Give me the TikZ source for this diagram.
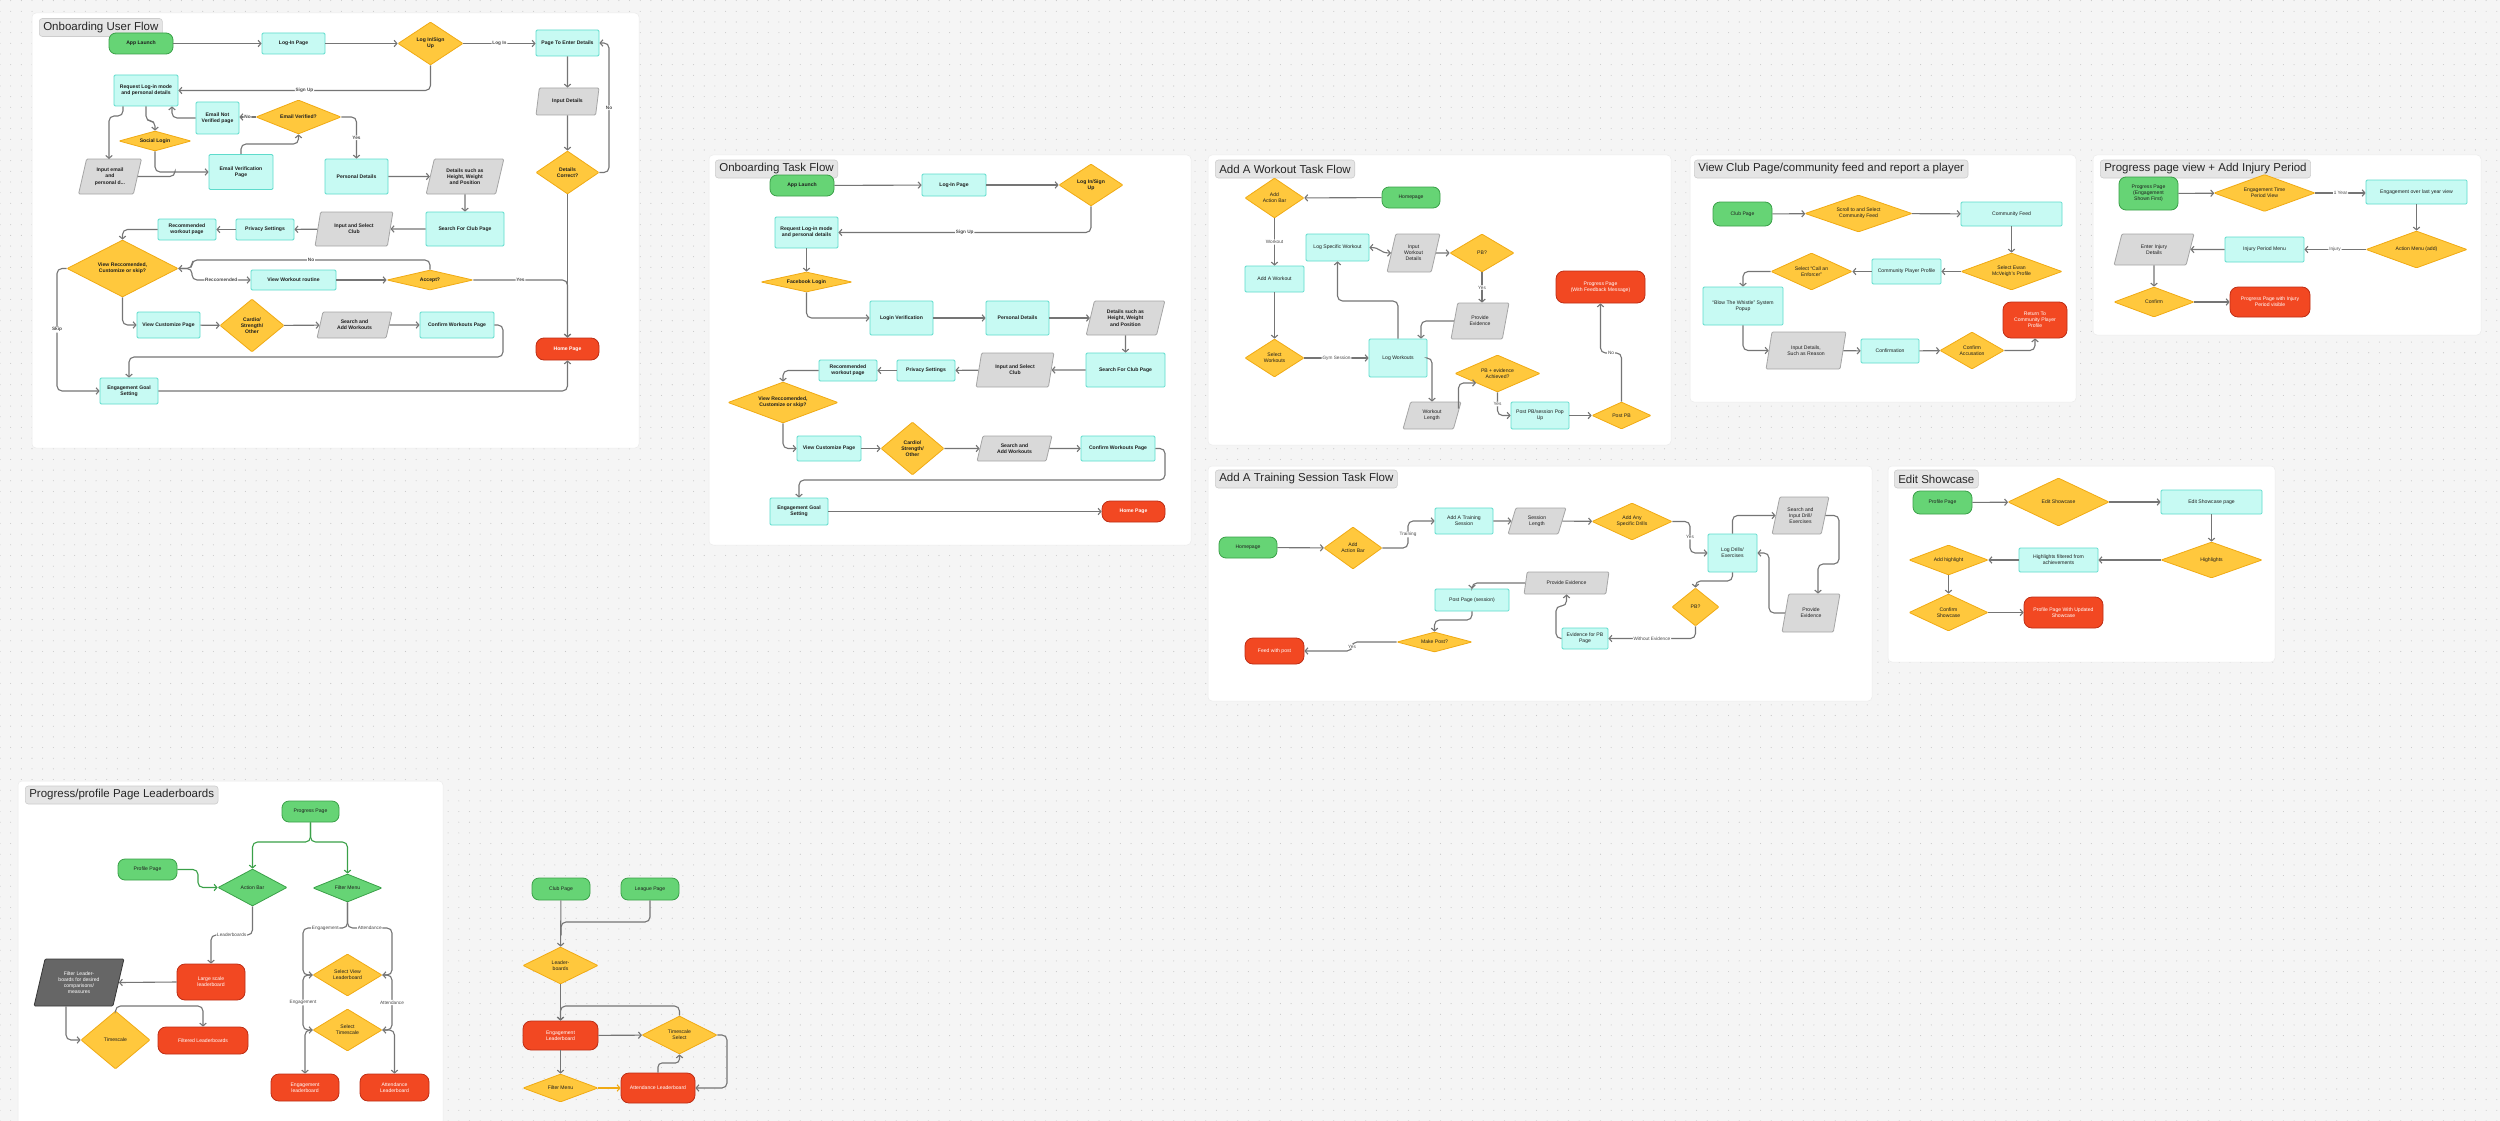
\documentclass[tikz,border=0pt]{standalone}
\usepackage{fontspec}
\setmainfont{Liberation Sans}
\usetikzlibrary{shapes.geometric,arrows.meta,patterns.meta}
\definecolor{bgc}{RGB}{245,245,245}
\definecolor{dotc}{RGB}{200,200,200}
\definecolor{gfill}{RGB}{102,212,117}
\definecolor{gline}{RGB}{58,160,72}
\definecolor{cfill}{RGB}{199,250,243}
\definecolor{cline}{RGB}{94,219,204}
\definecolor{yfill}{RGB}{255,200,61}
\definecolor{yline}{RGB}{240,170,20}
\definecolor{pfill}{RGB}{217,217,217}
\definecolor{pline}{RGB}{165,165,165}
\definecolor{rfill}{RGB}{242,72,34}
\definecolor{rline}{RGB}{190,45,20}
\definecolor{dfill}{RGB}{102,102,102}
\definecolor{dline}{RGB}{55,55,55}
\definecolor{arrc}{RGB}{117,117,117}
\definecolor{txt}{RGB}{30,30,30}
\definecolor{tfill}{RGB}{229,229,229}
\definecolor{tline}{RGB}{205,205,205}
\tikzdeclarepattern{
  name=bgdots,
  type=uncolored,
  bounding box={(-5.335pt,-5.335pt) and (5.335pt,5.335pt)},
  tile size={(10.67pt,10.67pt)},
  code={\fill (0pt,0pt) circle (0.55pt);}
}
\newcommand\nf{\fontsize{5.1}{6.2}\selectfont}
\newcommand\lf{\fontsize{4.7}{5.6}\selectfont}
\newcommand\nfw{\mdseries}
\newcommand\Dnode[6][dia]{\node[#1={#2}{#3},label={[dt]center:{#6}}] (#4) at (#5) {};}
\tikzset{
  base/.style={inner sep=1pt, align=center, font=\nf\nfw, text=txt, line width=0.8pt},
  term/.style 2 args={base, rectangle, rounded corners=7pt, fill=gfill, draw=gline, minimum width=#1, minimum height=#2},
  proc/.style 2 args={base, rectangle, rounded corners=1.2pt, fill=cfill, draw=cline, minimum width=#1, minimum height=#2},
  endn/.style 2 args={base, rectangle, rounded corners=8pt, fill=rfill, draw=rline, text=white, minimum width=#1, minimum height=#2},
  para/.style 2 args={base, trapezium, trapezium left angle=74, trapezium right angle=106, trapezium stretches=true, rounded corners=1.2pt, fill=pfill, draw=pline, minimum width=#1, minimum height=#2},
  dpara/.style 2 args={para={#1}{#2}, fill=dfill, draw=dline, text=white},
  dia/.style 2 args={base, diamond, inner sep=0pt, rounded corners=0.8pt, fill=yfill, draw=yline, minimum width=#1, minimum height=#2},
  gdia/.style 2 args={dia={#1}{#2}, fill=gfill, draw=gline},
  dt/.style={font=\nf\nfw, text=txt, align=center, inner sep=0pt},
  con/.style={draw=arrc, line width=1.1pt, rounded corners=5pt},
  arr/.style={con, -{Straight Barb[length=2.8pt,width=6.5pt]}},
  arr2/.style={con, {Straight Barb[length=2.8pt,width=6.5pt]}-{Straight Barb[length=2.8pt,width=6.5pt]}},
  garr/.style={arr, draw=gline},
  oarr/.style={arr, draw=yline},
  lab/.style={fill=white, inner sep=0.8pt, font=\lf\nfw, text=txt!80},
  panel/.style={fill=white, draw=black!8, line width=0.5pt, rounded corners=4pt},
  title/.style={anchor=west, fill=tfill, draw=tline, line width=0.6pt, rounded corners=3pt, inner xsep=4pt, inner ysep=0pt, minimum height=18, font=\fontsize{11.5}{13}\selectfont, text=black!85},
}
\begin{document}
\begin{tikzpicture}[x=1pt,y=-1pt]
\useasboundingbox (0,0) rectangle (2500,1121);
\fill[bgc] (0,0) rectangle (2500,1121);
\fill[pattern=bgdots, pattern color=dotc] (0,0) rectangle (2500,1121);
% panels
\draw[panel] (32,13) rectangle (639,448);
\draw[panel] (709,155) rectangle (1191,545);
\draw[panel] (1208,155) rectangle (1671,445);
\draw[panel] (1690,155) rectangle (2076,402);
\draw[panel] (2093,155) rectangle (2481,335);
\draw[panel] (1208,466) rectangle (1872,701);
\draw[panel] (1888,466) rectangle (2275,662);
\draw[panel] (18,781) rectangle (443,1125);
% titles
\node[title] (t1) at (39,27.5) {Onboarding User Flow};
\node[title] (t2) at (715,169) {Onboarding Task Flow};
\node[title] (t3) at (1215,169) {Add A Workout Task Flow};
\node[title] (t4) at (1694,169) {View Club Page/community feed and report a player};
\node[title] (t5) at (2100,169) {Progress page view + Add Injury Period};
\node[title] (t6) at (1215,479) {Add A Training Session Task Flow};
\node[title] (t7) at (1894,479) {Edit Showcase};
\node[title] (t8) at (25,795) {Progress/profile Page Leaderboards};

% ================= Panel 1: Onboarding User Flow
\renewcommand\nfw{\bfseries}
\node[term={64}{21}] (a1) at (141,43.5) {App Launch};
\node[proc={63}{21}] (a2) at (293.5,43.5) {Log-In Page};
\Dnode{65}{43}{a3}{430.5,43.5}{Log In/Sign\\Up}
\node[proc={63}{26}] (a4) at (567.5,43) {Page To Enter Details};
\node[para={63}{27}] (a5) at (567.5,101.5) {Input Details};
\Dnode{63}{43}{a6}{567.5,172.5}{Details\\Correct?}
\node[endn={63}{22}] (a7) at (567.5,349) {Home Page};
\node[proc={64}{31}] (a8) at (146,90.5) {Request Log-in mode\\and personal details};
\node[proc={43}{32}] (a9) at (217.5,118) {Email Not\\Verified page};
\Dnode{85}{34}{a10}{298.5,117}{Email Verified?}
\Dnode{72}{20}{a11}{155,141}{Social Login}
\node[para={63}{35}] (a12) at (110,176.5) {Input email\\and\\personal d...};
\node[proc={64}{35}] (a13) at (241,172) {Email Verification\\Page};
\node[proc={63}{35}] (a14) at (356.5,176.5) {Personal Details};
\node[para={78}{35}] (a15) at (465,176.5) {Details such as\\Height, Weight\\and Position};
\node[proc={78}{34}] (a16) at (465,229) {Search For Club Page};
\node[para={78}{34}] (a17) at (354,229) {Input and Select\\Club};
\node[proc={58}{21}] (a18) at (265,229.5) {Privacy Settings};
\node[proc={58}{21}] (a19) at (187,229.5) {Recommended\\workout page};
\Dnode{111}{57}{a20}{122.5,268.5}{View Reccomended,\\Customize or skip?}
\node[proc={85}{20}] (a21) at (293.5,280) {View Workout routine};
\Dnode{86}{20}{a22}{430,280}{Accept?}
\node[proc={63}{26}] (a23) at (168.5,325) {View Customize Page};
\Dnode{64}{53}{a24}{252,325.5}{Cardio/\\Strength/\\Other}
\node[para={75}{26}] (a25) at (354.5,325) {Search and\\Add Workouts};
\node[proc={74}{26}] (a26) at (457,325) {Confirm Workouts Page};
\node[proc={58}{26}] (a27) at (129,391) {Engagement Goal\\Setting};

\draw[arr] (a1) -- (a2);
\draw[arr] (a2) -- (a3);
\draw[arr] (a3.east) -- node[lab]{Log In} (a4.west |- a3.east);
\draw[arr] (a3.south) |- node[lab,pos=.75]{Sign Up} (a8.east);
\draw[arr] (a4) -- (a5);
\draw[arr] (a5) -- (a6);
\draw[arr] (a6.east) -- (609,172.5) -- node[lab]{No} (609,43) -- (a4.east);
\draw[arr] (a6) -- (a7);
\draw[arr] ([xshift=-23pt]a8.south) -- (123,116) -- (109,116) -- (109,159);
\draw[arr] (a8.south) -- (146,121) -- (155,121) -- (a11.north);
\draw[arr] (a11.south) |- (a13.west);
\draw[con] (a12.east) -| (175,172);
\draw[arr] (a13.north) |- (298.5,144) -- (a10.south);
\draw[arr] (a10.west) -- node[lab]{No} (a9.east |- a10.west);
\draw[arr] (a9.west) -| ([xshift=26pt]a8.south);
\draw[arr] (a10.east) -| node[lab,pos=.75]{Yes} (a14.north);
\draw[arr] (a14) -- (a15);
\draw[arr] (a15) -- (a16);
\draw[arr] (a16) -- (a17);
\draw[arr] (a17) -- (a18);
\draw[arr] (a18) -- (a19);
\draw[arr] (a19.west) -| (a20.north);
\draw[arr] (a22.north) -- (430,260) -- node[lab]{No} (192,260) -- (192,268.5) -- (a20.east);
\draw[arr] (a20.east) -- (192,268.5) -- (192,280) -- node[lab]{Reccomended} (a21.west);
\draw[arr] (a21) -- (a22);
\draw[arr] (a22.east) -| node[lab,pos=.25]{Yes} (a7.north);
\draw[arr] (a20.south) |- (a23.west);
\draw[arr] (a23) -- (a24);
\draw[arr] (a24) -- (a25);
\draw[arr] (a25) -- (a26);
\draw[arr] (a26.east) -- (503,325) -- (503,357) -- (129,357) -- (a27.north);
\draw[arr] (a20.west) -- (57,268.5) -- node[lab]{Skip} (57,391) -- (a27.west);
\draw[arr] (a27.east) -| (a7.south);

% ================= Panel 2: Onboarding Task Flow
\node[term={64}{21}] (b1) at (802,185.5) {App Launch};
\node[proc={64}{22}] (b2) at (954,185) {Log-In Page};
\Dnode{64}{42}{b3}{1091,185}{Log In/Sign\\Up}
\node[proc={63}{31}] (b4) at (806.5,232.5) {Request Log-in mode\\and personal details};
\Dnode{91}{20}{b5}{806.5,282}{Facebook Login}
\node[proc={63}{34}] (b6) at (901.5,318) {Login Verification};
\node[proc={63}{34}] (b7) at (1017.5,318) {Personal Details};
\node[para={79}{34}] (b8) at (1125.5,318) {Details such as\\Height, Weight\\and Position};
\node[proc={79}{34}] (b9) at (1125.5,370) {Search For Club Page};
\node[para={78}{34}] (b10) at (1015,370) {Input and Select\\Club};
\node[proc={58}{21}] (b11) at (926,370.5) {Privacy Settings};
\node[proc={58}{21}] (b12) at (848,370.5) {Recommended\\workout page};
\Dnode{110}{41}{b13}{783,402.5}{View Reccomended,\\Customize or skip?}
\node[proc={64}{25}] (b14) at (829,448.5) {View Customize Page};
\Dnode{63}{53}{b15}{912.5,448.5}{Cardio/\\Strength/\\Other}
\node[para={75}{25}] (b16) at (1014.5,448.5) {Search and\\Add Workouts};
\node[proc={74}{25}] (b17) at (1118,448.5) {Confirm Workouts Page};
\node[proc={58}{27}] (b18) at (799,511.5) {Engagement Goal\\Setting};
\node[endn={63}{21}] (b19) at (1133.5,511.5) {Home Page};

\draw[arr] (b1) -- (b2);
\draw[arr] (b2) -- (b3);
\draw[arr] (b3.south) |- node[lab,pos=.75]{Sign Up} (b4.east);
\draw[arr] (b4) -- (b5);
\draw[arr] (b5.south) |- (b6.west);
\draw[arr] (b6) -- (b7);
\draw[arr] (b7) -- (b8);
\draw[arr] (b8) -- (b9);
\draw[arr] (b9) -- (b10);
\draw[arr] (b10) -- (b11);
\draw[arr] (b11) -- (b12);
\draw[arr] (b12.west) -| (b13.north);
\draw[arr] (b13.south) |- (b14.west);
\draw[arr] (b14) -- (b15);
\draw[arr] (b15) -- (b16);
\draw[arr] (b16) -- (b17);
\draw[arr] (b17.east) -- (1165,448.5) -- (1165,480) -- (799,480) -- (b18.north);
\draw[arr] (b18) -- (b19);

% ================= Panel 3: Add A Workout
\renewcommand\nfw{\mdseries}
\Dnode{59}{40}{c1}{1274.5,198}{Add\\Action Bar}
\node[term={58}{21}] (c2) at (1411,197.5) {Homepage};
\node[proc={59}{26}] (c3) at (1274.5,279) {Add A Workout};
\Dnode{59}{38}{c4}{1274.5,358}{Select\\Workouts}
\node[proc={63}{27}] (c5) at (1337.5,247.5) {Log Specific Workout};
\node[para={53}{38}] (c6) at (1413.5,253) {Input\\Workout\\Details};
\Dnode{64}{38}{c7}{1482,253}{PB?}
\node[proc={58}{38}] (c8) at (1398,358) {Log Workouts};
\node[para={58}{36}] (c9) at (1480,321) {Provide\\Evidence};
\node[endn={89}{32}] (c10) at (1600.5,287) {Progress Page\\(With Feedback Message)};
\Dnode{85}{37}{c11}{1497.5,373.5}{PB + evidence\\Achieved?}
\node[para={58}{27}] (c12) at (1432,415.5) {Workout\\Length};
\node[proc={58}{27}] (c13) at (1540,415.5) {Post PB/session Pop\\Up};
\Dnode{59}{27}{c14}{1621.5,415.5}{Post PB}

\draw[arr] (c2) -- (c1);
\draw[arr] (c1) -- node[lab]{Workout} (c3);
\draw[arr] (c3) -- (c4);
\draw[arr] (c4) -- node[lab]{Gym Session} (c8);
\draw[arr] (c8.north) -- (1398,301) -- (1337.5,301) -- (c5.south);
\draw[arr2] (c5.east) .. controls (1381,247.5) and (1379,253) .. (c6.west);
\draw[arr] (c6.east) -- (c7.west);
\draw[arr] (c7.south) -- node[lab]{Yes} (c7.south |- c9.north);
\draw[arr] (c9.west) -| ([xshift=23pt]c8.north);
\draw[arr] (c8.east) -| (c12.north);
\draw[arr] ([shift={(-3,7)}]c12.top right corner) |- (c11.south west);
\draw[arr] (c11.south) |- node[lab,pos=.25]{Yes} (c13.west);
\draw[arr] (c13) -- (c14);
\draw[arr] (c14.north) -- (1621.5,353) -- node[lab]{No} (c10.south |- 0,353) -- (c10.south);

% ================= Panel 4: View Club
\node[term={59}{24}] (d1) at (1742.5,214) {Club Page};
\Dnode{107}{37}{d2}{1858.5,213.5}{Scroll to and Select\\Community Feed}
\node[proc={101}{24}] (d3) at (2011.5,214) {Community Feed};
\Dnode{101}{37}{d4}{2011.5,271.5}{Select Ewan\\McVeigh's Profile}
\node[proc={69}{25}] (d5) at (1906.5,271.5) {Community Player Profile};
\Dnode{81}{37}{d6}{1811.5,271.5}{Select “Call an\\Enforcer”}
\node[proc={80}{38}] (d7) at (1743,306) {“Blow The Whistle” System\\Popup};
\node[para={80}{37}] (d8) at (1806,350.5) {Input Details,\\Such as Reason};
\node[proc={58}{24}] (d9) at (1890,351) {Confirmation};
\Dnode{64}{37}{d10}{1972,350.5}{Confirm\\Accusation}
\node[endn={64}{36}] (d11) at (2035,320) {Return To\\Community Player\\Profile};

\draw[arr] (d1) -- (d2);
\draw[arr] (d2) -- (d3);
\draw[arr] (d3) -- (d4);
\draw[arr] (d4) -- (d5);
\draw[arr] (d5) -- (d6);
\draw[arr] (d6.west) -| (d7.north);
\draw[arr] (d7.south) |- (d8.west);
\draw[arr] (d8) -- (d9);
\draw[arr] (d9) -- (d10);
\draw[arr] (d10.east) -| (d11.south);

% ================= Panel 5: Progress page view
\node[term={59}{33}] (e1) at (2148.5,193.5) {Progress Page\\(Engagement\\Shown First)};
\Dnode{101}{37}{e2}{2264.5,193}{Engagement Time\\Period View}
\node[proc={101}{24}] (e3) at (2416.5,192) {Engagement over last year view};
\Dnode{101}{37}{e4}{2416.5,249.5}{Action Menu (add)}
\node[proc={79}{25}] (e5) at (2264.5,249.5) {Injury Period Menu};
\node[para={80}{31}] (e6) at (2154,249.5) {Enter Injury\\Details};
\Dnode{80}{30}{e7}{2154,302}{Confirm}
\node[endn={80}{30}] (e8) at (2270,302) {Progress Page with Injury\\Period visible};

\draw[arr] (e1) -- (e2);
\draw[arr] (e2.east) -- node[lab]{1 Year} (e3.west |- e2.east);
\draw[arr] (e3) -- (e4);
\draw[arr] (e4) -- node[lab]{Injury} (e5);
\draw[arr] (e5) -- (e6);
\draw[arr] (e6) -- (e7);
\draw[arr] (e7) -- (e8);

% ================= Panel 6: Add A Training Session
\node[term={58}{21}] (f1) at (1248,547.5) {Homepage};
\Dnode{58}{42}{f2}{1353,548}{Add\\Action Bar}
\node[proc={58}{26}] (f3) at (1464,521) {Add A Training\\Session};
\node[para={58}{26}] (f4) at (1537,521) {Session\\Length};
\Dnode{80}{37}{f5}{1632,521.5}{Add Any\\Specific Drills}
\node[proc={49}{38}] (f6) at (1732.5,553) {Log Drills/\\Exercises};
\node[para={57}{37}] (f7) at (1800.5,515.5) {Search and\\Input Drill/\\Exercises};
\node[para={58}{38}] (f8) at (1811,613) {Provide\\Evidence};
\Dnode{47}{38}{f9}{1695.5,607}{PB?}
\node[proc={46}{21}] (f10) at (1585,638.5) {Evidence for PB\\Page};
\node[para={85}{22}] (f11) at (1566.5,583) {Provide Evidence};
\node[proc={74}{22}] (f12) at (1472,600) {Post Page (session)};
\Dnode{75}{20}{f13}{1434.5,642}{Make Post?}
\node[endn={59}{26}] (f14) at (1274.5,651) {Feed with post};

\draw[arr] (f1) -- (f2);
\draw[arr] (f2.east) -- (1408,548) -- node[lab]{Training} (1408,521) -- (f3.west);
\draw[arr] (f3) -- (f4);
\draw[arr] (f4) -- (f5);
\draw[arr] (f5.east) -- (1690,521.5) -- node[lab]{Yes} (1690,553) -- (f6.west);
\draw[arr] (f6.north) |- (f7.west);
\draw[arr] (f7.east) -| (1839,564) -| ([xshift=7pt]f8.north);
\draw[arr] (f8.west) -- (1769,613) -- (1769,553) -- (f6.east);
\draw[arr] (f6.south) -- (1732.5,581) -- (1695.5,581) -- (f9.north);
\draw[arr] (f9.south) |- node[lab,pos=.75]{Without Evidence} (f10.east);
\draw[arr] (f10.west) -- (1556,638.5) -- (1556,606) -- (1566.5,606) -- (f11.south);
\draw[arr] (f11.west) -| (f12.north);
\draw[arr] (f12.south) -- (1472,620) -- (1434.5,620) -- (f13.north);
\draw[arr] (f13.west) -- (1352,642) -- node[lab]{Yes} (1352,651) -- (f14.east);

% ================= Panel 7: Edit Showcase
\node[term={59}{23}] (g1) at (1942.5,502.5) {Profile Page};
\Dnode{101}{48}{g2}{2058.5,502}{Edit Showcase}
\node[proc={101}{24}] (g3) at (2211.5,502) {Edit Showcase page};
\Dnode{101}{36}{g4}{2211.5,560}{Highlights}
\node[proc={79}{24}] (g5) at (2058.5,560) {Highlights filtered from\\achievements};
\Dnode{79}{30}{g6}{1948.5,560}{Add highlight}
\Dnode{79}{37}{g7}{1948.5,612.5}{Confirm\\Showcase}
\node[endn={79}{31}] (g8) at (2063.5,612.5) {Profile Page With Updated\\Showcase};

\draw[arr] (g1) -- (g2);
\draw[arr] (g2) -- (g3);
\draw[arr] (g3) -- (g4);
\draw[arr] (g4) -- (g5);
\draw[arr] (g5) -- (g6);
\draw[arr] (g6) -- (g7);
\draw[arr] (g7) -- (g8);

% ================= Panel 8: Progress/profile Page Leaderboards
\node[term={57}{21}] (h1) at (310.5,811.5) {Progress Page};
\node[term={59}{21}] (h2) at (147.5,869.5) {Profile Page};
\Dnode[gdia]{69}{37}{h3}{252.5,887.5}{Action Bar}
\Dnode[gdia]{69}{28}{h4}{347.5,888}{Filter Menu}
\node[endn={68}{36}] (h5) at (211,982) {Large scale\\leaderboard};
\node[dpara={90}{47}] (h6) at (79,982.5) {Filter Leader-\\boards for desired\\comparisons/\\measures};
\Dnode{69}{58}{h7}{115.5,1040}{Timescale}
\node[endn={90}{27}] (h8) at (203,1040.5) {Filtered Leaderboards};
\Dnode{69}{42}{h9}{347.5,975}{Select View\\Leaderboard}
\Dnode{69}{42}{h10}{347.5,1030}{Select\\Timescale}
\node[endn={68}{27}] (h11) at (305,1087.5) {Engagement\\leaderboard};
\node[endn={69}{27}] (h12) at (394.5,1087.5) {Attendance\\Leaderboard};

\draw[garr] (h1.south) -- (310.5,842) -- (252.5,842) -- (h3.north);
\draw[garr] (h1.south) -- (310.5,842) -- (347.5,842) -- (h4.north);
\draw[garr] (h2.east) -- (198,869.5) -- (198,887.5) -- (h3.west);
\draw[arr] (h3.south) -- (252.5,935) -- node[lab]{Leaderboards} (211,935) -- (h5.north);
\draw[arr] (h5.west) -- (h6.east);
\draw[arr] ([xshift=-13pt]h6.south) |- (h7.west);
\draw[arr] (h7.north) -- (115.5,1006) -- (203,1006) -- (h8.north);
\draw[arr] (h4.south) -- (347.5,928) -- node[lab]{Engagement} (303,928) -- (303,975) -- (h9.west);
\draw[arr] (h4.south) -- (347.5,928) -- node[lab]{Attendance} (392,928) -- (392,975) -- (h9.east);
\draw[arr] (h9.west) -- (303,975) -- node[lab]{Engagement} (303,1030) -- (h10.west);
\draw[arr] (h9.east) -- (392,975) -- node[lab]{Attendance} (392,1030) -- (h10.east);
\draw[arr] (h10.west) -| (h11.north);
\draw[arr] (h10.east) -| (h12.north);

% ================= Club / League leaderboards
\node[term={58}{22}] (k1) at (561,889) {Club Page};
\node[term={58}{22}] (k2) at (650,889) {League Page};
\Dnode{75}{37}{k3}{560.5,965.5}{Leader-\\boards}
\node[endn={75}{29}] (k4) at (560.5,1035.5) {Engagement\\Leaderboard};
\Dnode{75}{38}{k5}{679.5,1035}{Timescale\\Select}
\Dnode{75}{28}{k6}{560.5,1088}{Filter Menu}
\node[endn={74}{30}] (k7) at (658,1088) {Attendance Leaderboard};

\draw[arr] (k1) -- (k3);
\draw[con] (k2.south) -- (650,922) -- (561,922) -- (561,935);
\draw[arr] (k3) -- (k4);
\draw[arr] (k5.north) -- (679.5,1006) -- (560.5,1006) -- (k4.north);
\draw[arr] (k4) -- (k5);
\draw[arr] (k5.east) -- (727,1035) -- (727,1088) -- (k7.east);
\draw[arr, rounded corners=4pt] (k7.north) -- (658,1063) -- (679.5,1063) -- (k5.south);
\draw[arr] (k4) -- (k6);
\draw[oarr] (k6) -- (k7);
\end{tikzpicture}
\end{document}
